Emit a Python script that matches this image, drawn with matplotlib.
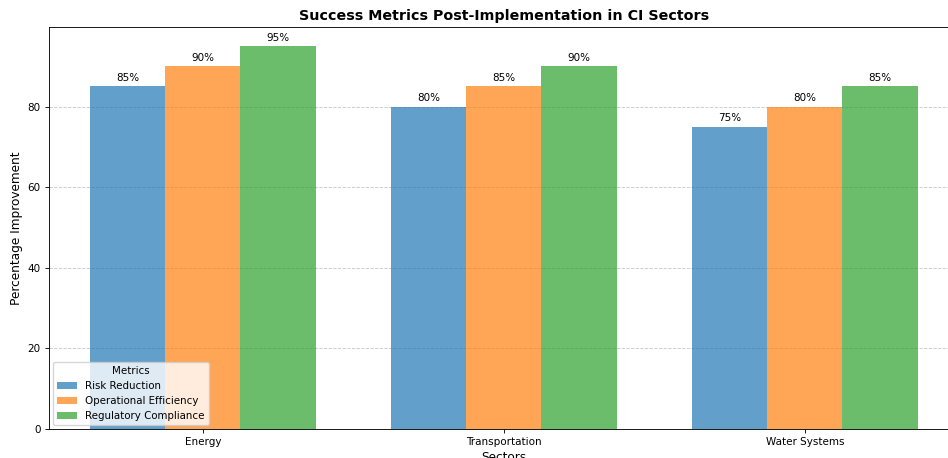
import matplotlib.pyplot as plt
import numpy as np

sectors = ['Energy', 'Transportation', 'Water Systems']
risk_reduction = [85, 80, 75]
operational_efficiency = [90, 85, 80]
regulatory_compliance = [95, 90, 85]
metric_names = ['Risk Reduction', 'Operational Efficiency', 'Regulatory Compliance']

# the reference looks like a shrunk-down render, so scale sizes down a bit
s = 0.79
plt.rcParams.update({
    'axes.linewidth': 0.8 * s,
    'xtick.major.size': 3.5 * s,
    'ytick.major.size': 3.5 * s,
    'xtick.major.width': 0.8 * s,
    'ytick.major.width': 0.8 * s,
    'xtick.major.pad': 3.5 * s,
    'ytick.major.pad': 3.5 * s,
    'axes.titlepad': 6 * s,
    'axes.labelpad': 4 * s,
    'grid.linewidth': 0.8 * s,
})

fig = plt.figure(figsize=(9.48, 4.58), dpi=100)
# the original picture is cropped on the right, so the axes run past the edge
ax = fig.add_axes([0.0512, 0.0633, 0.9605, 0.8777])

x = np.arange(len(sectors))
width = 0.25
series = [risk_reduction, operational_efficiency, regulatory_compliance]
colors = ['tab:blue', 'tab:orange', 'tab:green']

for i, (vals, name, c) in enumerate(zip(series, metric_names, colors)):
    bars = ax.bar(x + (i - 1) * width, vals, width, label=name, color=c, alpha=0.7)
    for b in bars:
        ax.annotate(f'{b.get_height():.0f}%',
                    (b.get_x() + b.get_width() / 2, b.get_height()),
                    xytext=(0, 3 * s), textcoords='offset points',
                    ha='center', va='bottom', fontsize=9.5 * s)

ax.set_xticks(x)
ax.set_xticklabels(sectors, fontsize=9.5 * s)
ax.tick_params(axis='y', labelsize=9.5 * s)
ax.set_xlabel('Sectors', fontsize=11 * s)
ax.set_ylabel('Percentage Improvement', fontsize=11 * s)
ax.set_title('Success Metrics Post-Implementation in CI Sectors', fontsize=13 * s, fontweight='bold')
ax.yaxis.grid(True, linestyle='--', alpha=0.7)
ax.set_axisbelow(True)
ax.legend(title='Metrics', loc='lower left', fontsize=9.3 * s, title_fontsize=9.3 * s,
          borderaxespad=0.5 * s, handlelength=2.0, borderpad=0.4, labelspacing=0.5)

fig.savefig('out.png', dpi=100)
